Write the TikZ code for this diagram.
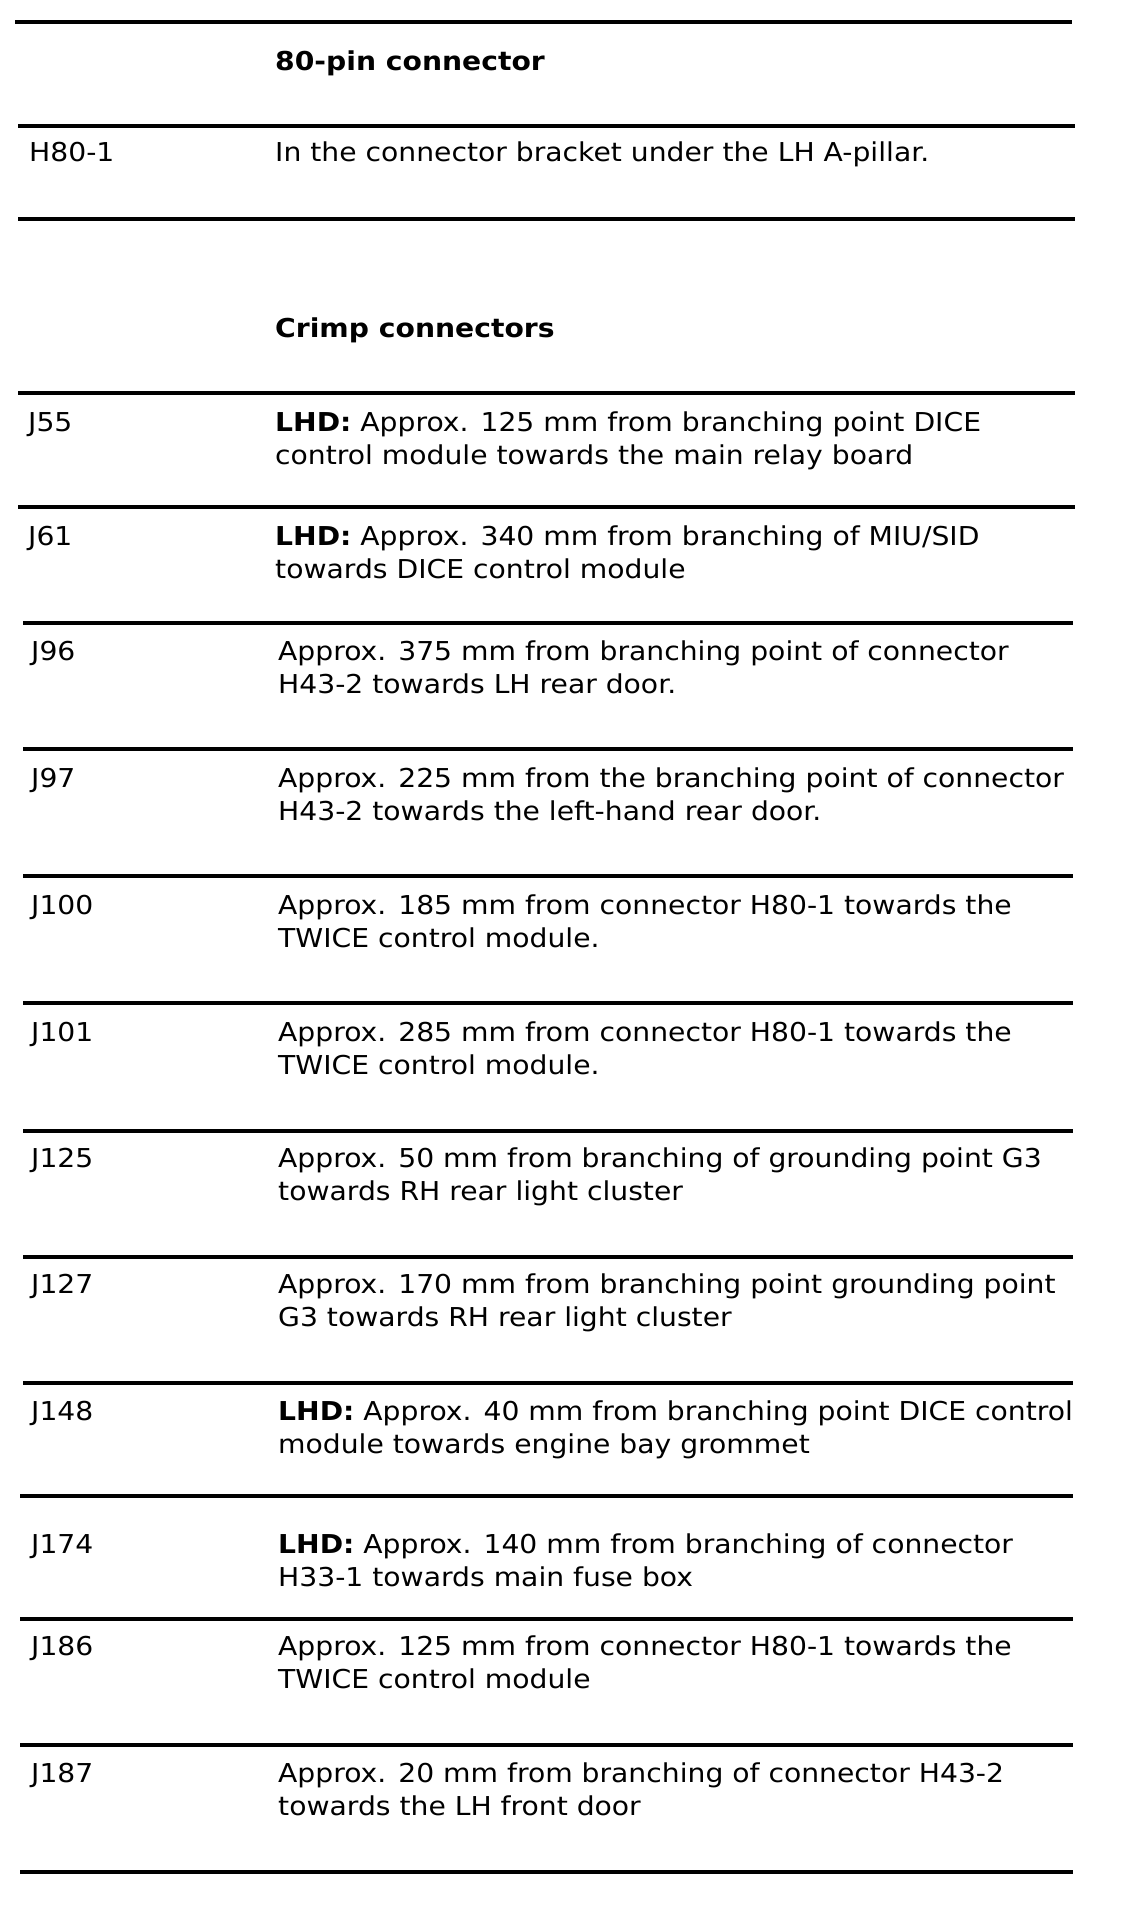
\documentclass[tikz,border=0pt]{standalone}
\usepackage{fontspec}
\setmainfont{DejaVu Sans}[FakeStretch=1.085]
\begin{document}
\begin{tikzpicture}[x=1pt,y=-1pt,
  rule/.style={line width=3.2pt},
  cell/.style={anchor=base west,inner sep=0pt,align=left,
    font=\fontsize{26}{33.5}\selectfont},
  head/.style={cell,font=\bfseries\fontsize{26}{33.5}\selectfont}]
\useasboundingbox[fill=white] (0,0) rectangle (1120,1908);
% rules
\draw[rule] (15,22) -- (1072,22);
\foreach \y in {126,219,393,507}{\draw[rule] (18,\y) -- (1075,\y);}
\foreach \y in {623,749,876,1003,1131,1257,1383}{\draw[rule] (23,\y) -- (1073,\y);}
\foreach \y in {1496,1619,1745,1872}{\draw[rule] (20,\y) -- (1073,\y);}
% headings
\node[head] (h80) at (275,71) {80-pin connector};
\node[head] (hcr) at (275,337) {Crimp connectors};
% rows (two-line cells are anchored at the baseline of their second line)
\node[cell] (k1) at (29,161) {H80-1};
\node[cell] (v1) at (275,161) {In the connector bracket under the LH A-pillar.};
\node[cell] (k2) at (28,431) {J55};
\node[cell] (v2) at (275,464.5) {\textbf{LHD:} Approx. 125 mm from branching point DICE\\control module towards the main relay board};
\node[cell] (k3) at (28,545) {J61};
\node[cell] (v3) at (275,578.5) {\textbf{LHD:} Approx. 340 mm from branching of MIU/SID\\towards DICE control module};
\node[cell] (k4) at (31,660) {J96};
\node[cell] (v4) at (278,693.5) {Approx. 375 mm from branching point of connector\\H43-2 towards LH rear door.};
\node[cell] (k5) at (31,787) {J97};
\node[cell] (v5) at (278,820.5) {Approx. 225 mm from the branching point of connector\\H43-2 towards the left-hand rear door.};
\node[cell] (k6) at (31,914) {J100};
\node[cell] (v6) at (278,947.5) {Approx. 185 mm from connector H80-1 towards the\\TWICE control module.};
\node[cell] (k7) at (31,1041) {J101};
\node[cell] (v7) at (278,1074.5) {Approx. 285 mm from connector H80-1 towards the\\TWICE control module.};
\node[cell] (k8) at (31,1167) {J125};
\node[cell] (v8) at (278,1200.5) {Approx. 50 mm from branching of grounding point G3\\towards RH rear light cluster};
\node[cell] (k9) at (31,1293) {J127};
\node[cell] (v9) at (278,1326.5) {Approx. 170 mm from branching point grounding point\\G3 towards RH rear light cluster};
\node[cell] (k10) at (31,1420) {J148};
\node[cell] (v10) at (278,1453.5) {\textbf{LHD:} Approx. 40 mm from branching point DICE control\\module towards engine bay grommet};
\node[cell] (k11) at (31,1553) {J174};
\node[cell] (v11) at (278,1586.5) {\textbf{LHD:} Approx. 140 mm from branching of connector\\H33-1 towards main fuse box};
\node[cell] (k12) at (31,1655) {J186};
\node[cell] (v12) at (278,1688.5) {Approx. 125 mm from connector H80-1 towards the\\TWICE control module};
\node[cell] (k13) at (31,1782) {J187};
\node[cell] (v13) at (278,1815.5) {Approx. 20 mm from branching of connector H43-2\\towards the LH front door};
\end{tikzpicture}
\end{document}
